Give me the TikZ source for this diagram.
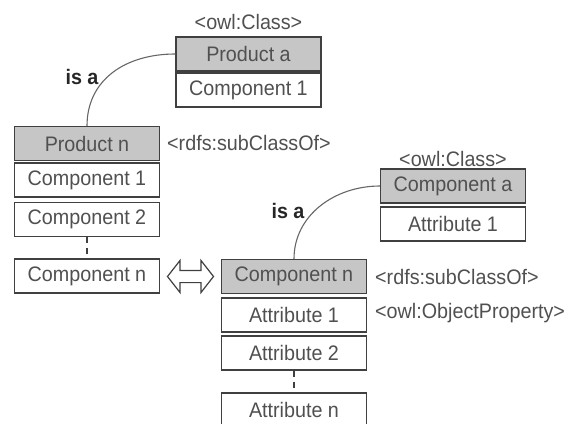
\documentclass[tikz,border=0pt]{standalone}
\usepackage{fontspec}
\setmainfont[FakeStretch=0.94]{Liberation Sans}
\usetikzlibrary{shapes.arrows}
\definecolor{txt}{HTML}{505050}
\definecolor{edge}{HTML}{404040}
\definecolor{hdr}{HTML}{C6C6C6}
\tikzset{
  box/.style={draw=edge, line width=1.2pt, fill=white, minimum width=145pt, minimum height=34pt,
    inner sep=0pt, text=txt, font=\fontsize{21}{24}\selectfont},
  hbox/.style={box, fill=hdr},
  tag/.style={text=txt, inner sep=0pt, font=\fontsize{21}{24}\selectfont},
  isa/.style={text=black!85, inner sep=0pt, font=\fontsize{21}{24}\selectfont\bfseries},
  link/.style={draw=black!60, line width=1.1pt},
  dots/.style={draw=edge, line width=1.2pt, dash pattern=on 6pt off 5pt}
}
\begin{document}
\begin{tikzpicture}[x=1pt,y=-1pt]
\useasboundingbox (0,0) rectangle (578,423);
\clip (0,0) rectangle (578,423);
% left upper class
\node[hbox] (pa) at (248.5,54) {Product a};
\node[box] (pa1) at (248.5,90) {Component 1};
\node[tag] (owl1) at (248.5,22) {<owl:Class>};
% product n
\node[hbox] (pn) at (87,143.5) {Product n};
\node[box] (c1) at (87,180) {Component 1};
\node[box] (c2) at (87,219.5) {Component 2};
\node[box] (cn) at (87,276) {Component n};
\node[tag, anchor=west] (rdfs1) at (167,143) {<rdfs:subClassOf>};
\node[isa] (isa1) at (82,77) {is a};
% right upper class
\node[hbox] (ca) at (453,186) {Component a};
\node[box] (ca1) at (453,224) {Attribute 1};
\node[tag] (owl2) at (453,159) {<owl:Class>};
% component n
\node[hbox] (rn) at (294,276.5) {Component n};
\node[box] (a1) at (294,315) {Attribute 1};
\node[box] (a2) at (294,353) {Attribute 2};
\node[box] (an) at (294,410) {Attribute n};
\node[tag, anchor=west] (rdfs2) at (375,277) {<rdfs:subClassOf>};
\node[tag, anchor=west] (objp) at (375,313) {<owl:ObjectProperty>};
\node[isa] (isa2) at (288,211) {is a};
% connectors
\draw[link] (pn.north) .. controls (87,80) and (125,54) .. (pa.west);
\draw[link] (rn.north) .. controls (294,215) and (335,186) .. (ca.west);
\draw[dots] (c2.south) -- (cn.north);
\draw[dots] (a2.south) -- (an.north);
\node[double arrow, draw=edge, line width=1.2pt, fill=white, inner sep=5.5pt,
  minimum height=46pt, double arrow head extend=10pt, double arrow tip angle=104] (dbl) at (190.5,276.5) {};
\end{tikzpicture}
\end{document}
